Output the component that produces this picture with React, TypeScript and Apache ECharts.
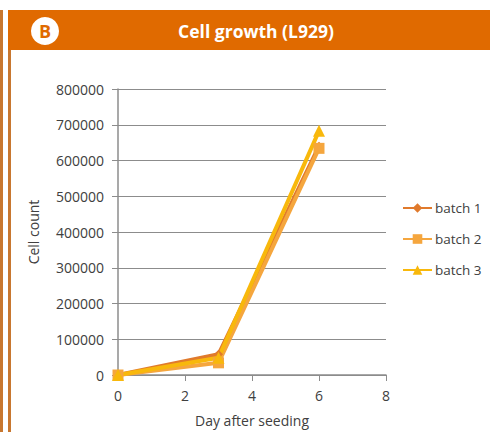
import React, { useEffect, useRef } from "react";
import * as echarts from "echarts";

const days = [0, 3, 6];
const batch1 = [0, 58000, 640000];
const batch2 = [0, 34000, 634000];
const batch3 = [0, 48000, 683000];
const seriesNames = ["batch 1", "batch 2", "batch 3"];
const yTicks = [0, 100000, 200000, 300000, 400000, 500000, 600000, 700000, 800000];
const xTicks = [0, 2, 4, 6, 8];

export default function App() {
  const ref = useRef<HTMLDivElement>(null);
  useEffect(() => {
    if (!ref.current) return;
    const chart = echarts.init(ref.current, undefined, { renderer: "svg" });
    const font = "'Open Sans', 'Noto Sans', sans-serif";
    const colors = ["#E07A2C", "#F5A63E", "#F8B80C"];
    const symbols = ["diamond", "rect", "triangle"];
    const sizes = [9, 11, 12];
    const datas = [batch1, batch2, batch3];
    chart.setOption({
      animation: false,
      textStyle: { fontFamily: font },
      graphic: [
        { type: "rect", shape: { x: 0, y: 10, width: 3, height: 422 }, style: { fill: "#C8772F" } },
        { type: "rect", shape: { x: 8, y: 50, width: 3, height: 382 }, style: { fill: "#C8772F" } },
        { type: "rect", shape: { x: 8, y: 10, width: 482, height: 40 }, style: { fill: "#E06A00" } },
        { type: "circle", shape: { cx: 45, cy: 31, r: 14 }, style: { fill: "#FFFFFF" } },
        {
          type: "text", x: 45, y: 31,
          style: { text: "B", fill: "#E06A00", font: `bold 18px ${font}`, align: "center", verticalAlign: "middle" },
        },
        {
          type: "text", x: 256, y: 31,
          style: { text: "Cell growth (L929)", fill: "#FFFFFF", font: `bold 17.5px ${font}`, align: "center", verticalAlign: "middle" },
        },
      ],
      grid: { left: 118, right: 104, top: 89, bottom: 56, containLabel: false },
      legend: {
        orient: "vertical",
        left: 402,
        top: 201,
        itemWidth: 29,
        itemHeight: 12,
        itemGap: 17,
        padding: 0,
        textStyle: { fontSize: 13.5, color: "#404040", fontFamily: font, padding: [0, 0, 0, -2] },
        data: seriesNames,
      },
      xAxis: {
        type: "value",
        min: xTicks[0],
        max: xTicks[xTicks.length - 1],
        interval: 2,
        name: "Day after seeding",
        nameLocation: "middle",
        nameGap: 38,
        nameTextStyle: { fontSize: 14, color: "#404040" },
        axisLine: { show: true, lineStyle: { color: "#8C8C8C", width: 1.5 } },
        axisTick: { show: true, length: 6, lineStyle: { color: "#8C8C8C" } },
        axisLabel: { fontSize: 14, color: "#404040", margin: 13 },
        splitLine: { show: false },
      },
      yAxis: {
        type: "value",
        min: yTicks[0],
        max: yTicks[yTicks.length - 1],
        interval: 100000,
        name: "Cell count",
        nameLocation: "middle",
        nameRotate: 90,
        nameGap: 78,
        nameTextStyle: { fontSize: 14, color: "#404040" },
        axisLine: { show: true, lineStyle: { color: "#8C8C8C", width: 1.5 } },
        axisTick: { show: true, inside: false, length: 6, lineStyle: { color: "#8C8C8C" } },
        axisLabel: { fontSize: 14, color: "#404040", margin: 14, formatter: (v: number) => String(v) },
        splitLine: { show: true, lineStyle: { color: "#8C8C8C", width: 1.2 } },
      },
      series: seriesNames.map((n, i) => ({
        name: n,
        type: "line",
        data: days.map((d, j) => [d, datas[i][j]]),
        symbol: symbols[i],
        symbolSize: sizes[i],
        showAllSymbol: true,
        itemStyle: { color: colors[i] },
        lineStyle: { color: colors[i], width: 4 },
      })),
    });
    return () => chart.dispose();
  }, []);
  return (
    <div
      ref={ref}
      style={{ position: "fixed", left: 0, top: 0, width: 490, height: 432, background: "#FFFFFF" }}
    />
  );
}
